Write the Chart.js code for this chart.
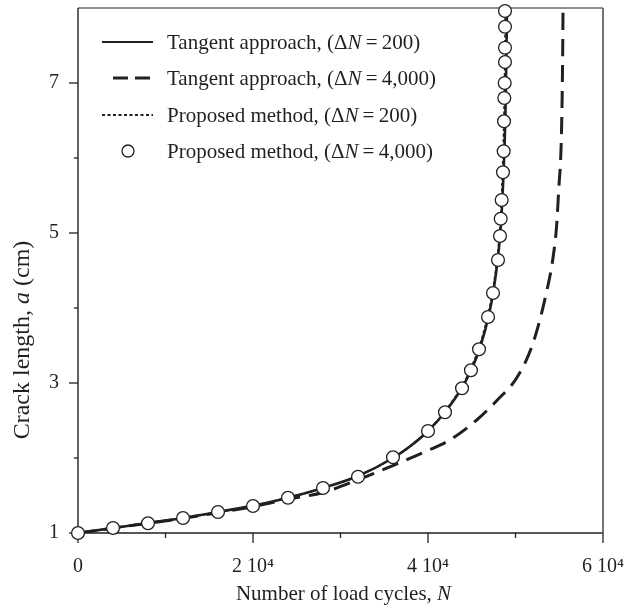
<!DOCTYPE html>
<html><head><meta charset="utf-8">
<script src="https://cdn.jsdelivr.net/npm/chart.js@4.4.0/dist/chart.umd.min.js"></script>
<style>html,body{margin:0;padding:0;background:#fff}#wrap{width:626px;height:607px;position:relative}</style>
</head><body><div id="wrap"><canvas id="c"></canvas></div>
<script>
// ---- data ----
const tangent200N = [0,4000,8000,12000,16000,20000,24000,28000,32000,36000,38000,40000,42000,44000,45000,46000,47000,47500,48000,48300,48500,48700,48850,48950,49030];
const tangent200A = [1.0,1.066,1.133,1.2,1.28,1.365,1.47,1.6,1.76,2.0,2.16,2.36,2.62,2.96,3.19,3.49,3.93,4.24,4.68,5.05,5.45,6.0,6.6,7.3,8.0];

const tangent4000N = [0,4000,8000,12000,16000,20000,24000,28000,32000,36000,40000,42500,45600,47900,50200,52000,53600,54300,54700,54950,55200,55330,55400,55430];
const tangent4000A = [1.0,1.065,1.13,1.195,1.27,1.35,1.45,1.54,1.71,1.9,2.1,2.24,2.51,2.77,3.08,3.53,4.24,4.68,5.1,5.6,6.11,6.8,7.5,8.0];

const proposed200N = [0,4000,8000,12000,16000,20000,24000,28000,32000,36000,38000,40000,42000,44000,45000,46000,47000,47500,48000,48250,48450,48600,48720,48800,48850];
const proposed200A = [1.0,1.066,1.133,1.2,1.28,1.365,1.47,1.6,1.76,2.0,2.16,2.36,2.63,2.98,3.22,3.53,3.98,4.3,4.75,5.1,5.55,6.1,6.7,7.4,8.0];

const proposed4000N = [0,4000,8000,12000,16000,20000,24000,28000,32000,36000,40000,41940,43890,44910,45830,46860,47430,48000,48230,48310,48420,48570,48650,48690,48720,48765,48800,48800,48800,48800];
const proposed4000A = [1.0,1.067,1.13,1.2,1.28,1.36,1.47,1.6,1.75,2.01,2.36,2.61,2.93,3.17,3.45,3.88,4.2,4.64,4.96,5.19,5.44,5.81,6.09,6.49,6.8,7.0,7.28,7.47,7.75,7.96];

const xTickValues = [0, 20000, 40000, 60000];
const xTickLabels = ['0', '2 10\u2074', '4 10\u2074', '6 10\u2074'];
const yTickValues = [1, 3, 5, 7];
const yTickLabels = ['1', '3', '5', '7'];

const legendLabels = [
  [['Tangent approach, (\u0394', 0], ['N', 1], ['\u2009=\u2009200)', 0]],
  [['Tangent approach, (\u0394', 0], ['N', 1], ['\u2009=\u20094,000)', 0]],
  [['Proposed method, (\u0394', 0], ['N', 1], ['\u2009=\u2009200)', 0]],
  [['Proposed method, (\u0394', 0], ['N', 1], ['\u2009=\u20094,000)', 0]]
];
const xTitle = [['Number of load cycles, ', 0], ['N', 1]];
const yTitle = [['Crack length, ', 0], ['a', 1], [' (cm)', 0]];

// ---- styling ----
const FONT = '"Liberation Serif", "Times New Roman", serif';
const INK = '#231f20';
const toXY = (xs, ys) => xs.map((x, i) => ({x: x, y: ys[i]}));

function richWidth(ctx, segs, size) {
  let w = 0;
  segs.forEach(s => { ctx.font = (s[1] ? 'italic ' : '') + size + 'px ' + FONT; w += ctx.measureText(s[0]).width; });
  return w;
}
function drawRich(ctx, segs, x, y, size, align) {
  const w = richWidth(ctx, segs, size);
  let cx = align === 'center' ? x - w / 2 : x;
  ctx.textAlign = 'left';
  segs.forEach(s => {
    ctx.font = (s[1] ? 'italic ' : '') + size + 'px ' + FONT;
    ctx.fillText(s[0], cx, y);
    cx += ctx.measureText(s[0]).width;
  });
}
function noPad(s) { s.paddingTop = 0; s.paddingBottom = 0; s.paddingLeft = 0; s.paddingRight = 0; }

const decor = {
  id: 'decor',
  beforeDatasetsDraw(chart) {
    const ctx = chart.ctx, a = chart.chartArea, xs = chart.scales.x, ys = chart.scales.y;
    ctx.save();
    ctx.strokeStyle = INK;
    ctx.lineWidth = 1.4;
    ctx.beginPath();
    ctx.moveTo(a.left, a.top); ctx.lineTo(a.left, a.bottom); ctx.lineTo(a.right, a.bottom);
    ctx.stroke();
    ctx.lineWidth = 1.2;
    ctx.beginPath(); ctx.moveTo(a.left, a.top); ctx.lineTo(a.right, a.top); ctx.stroke();
    ctx.strokeStyle = '#666';
    ctx.lineWidth = 1.8;
    ctx.beginPath(); ctx.moveTo(a.right, a.top); ctx.lineTo(a.right, a.bottom); ctx.stroke();
    ctx.strokeStyle = INK;
    ctx.lineWidth = 1.3;
    xs.ticks.forEach(t => {
      const px = xs.getPixelForValue(t.value);
      const major = t.value % 20000 === 0;
      ctx.beginPath(); ctx.moveTo(px, a.bottom); ctx.lineTo(px, a.bottom + (major ? 10 : 5)); ctx.stroke();
    });
    ys.ticks.forEach(t => {
      if (t.value >= 8) return;
      const py = ys.getPixelForValue(t.value);
      const major = t.value % 2 === 1;
      ctx.beginPath(); ctx.moveTo(a.left - (major ? 9 : 4), py); ctx.lineTo(a.left, py); ctx.stroke();
    });
    ctx.restore();
  },
  afterDraw(chart) {
    const ctx = chart.ctx, a = chart.chartArea;
    ctx.save();
    ctx.fillStyle = INK;
    ctx.textBaseline = 'alphabetic';
    drawRich(ctx, xTitle, (a.left + a.right) / 2 + 3, 600, 21, 'center');
    ctx.save();
    ctx.translate(29, 340);
    ctx.rotate(-Math.PI / 2);
    drawRich(ctx, yTitle, 0, 0, 24, 'center');
    ctx.restore();
    // legend
    const rows = [42, 78, 115, 151];
    ctx.strokeStyle = INK;
    rows.forEach((ry, i) => {
      ctx.save();
      ctx.beginPath();
      if (i === 0) { ctx.lineWidth = 2.2; ctx.moveTo(102, ry); ctx.lineTo(153, ry); ctx.stroke(); }
      if (i === 1) { ctx.lineWidth = 3; ctx.setLineDash([15, 7]); ctx.moveTo(113, ry); ctx.lineTo(152, ry); ctx.stroke(); }
      if (i === 2) { ctx.lineWidth = 2; ctx.setLineDash([3, 2.5]); ctx.moveTo(102, ry); ctx.lineTo(153, ry); ctx.stroke(); }
      if (i === 3) { ctx.lineWidth = 1.3; ctx.fillStyle = '#fff'; ctx.arc(128, ry, 6, 0, Math.PI * 2); ctx.fill(); ctx.stroke(); }
      ctx.restore();
      ctx.textBaseline = 'middle';
      drawRich(ctx, legendLabels[i], 167, ry + 1, 21, 'left');
    });
    ctx.restore();
  }
};

new Chart(document.getElementById('c'), {
  type: 'scatter',
  data: {
    datasets: [
      { label: 'Proposed method, (ΔN=4,000)', data: toXY(proposed4000N, proposed4000A), showLine: false,
        pointRadius: 6.4, pointBackgroundColor: '#fff', pointBorderColor: INK, pointBorderWidth: 1.3, clip: false, order: 0 },
      { label: 'Proposed method, (ΔN=200)', data: toXY(proposed200N, proposed200A), showLine: true,
        borderColor: INK, borderWidth: 2, borderDash: [3, 2.5], pointRadius: 0, cubicInterpolationMode: 'monotone', order: 1 },
      { label: 'Tangent approach, (ΔN=200)', data: toXY(tangent200N, tangent200A), showLine: true,
        borderColor: INK, borderWidth: 2.6, pointRadius: 0, cubicInterpolationMode: 'monotone', order: 2 },
      { label: 'Tangent approach, (ΔN=4,000)', data: toXY(tangent4000N, tangent4000A), showLine: true,
        borderColor: INK, borderWidth: 3, borderDash: [17, 9], pointRadius: 0, cubicInterpolationMode: 'monotone', order: 3 }
    ]
  },
  options: {
    responsive: true, maintainAspectRatio: false, animation: false, events: [],
    layout: { padding: { top: 8, right: 23, left: 0, bottom: 0 } },
    plugins: { legend: { display: false }, tooltip: { enabled: false } },
    scales: {
      x: {
        type: 'linear', min: 0, max: 60000,
        grid: { display: false }, border: { display: false },
        ticks: { stepSize: 10000, autoSkip: false, maxRotation: 0, padding: 14, color: INK,
          font: { family: FONT, size: 20 },
          callback: v => { const k = xTickValues.indexOf(v); return k >= 0 ? xTickLabels[k] : ''; } },
        afterFit: s => { s.height = 74; noPad(s); }
      },
      y: {
        type: 'linear', min: 1, max: 8,
        grid: { display: false }, border: { display: false },
        ticks: { stepSize: 1, autoSkip: false, padding: 11, color: INK,
          font: { family: FONT, size: 20 },
          callback: v => { const k = yTickValues.indexOf(v); return k >= 0 ? yTickLabels[k] : ''; } },
        afterFit: s => { s.width = 78; noPad(s); }
      }
    }
  },
  plugins: [decor]
});
</script></body></html>
